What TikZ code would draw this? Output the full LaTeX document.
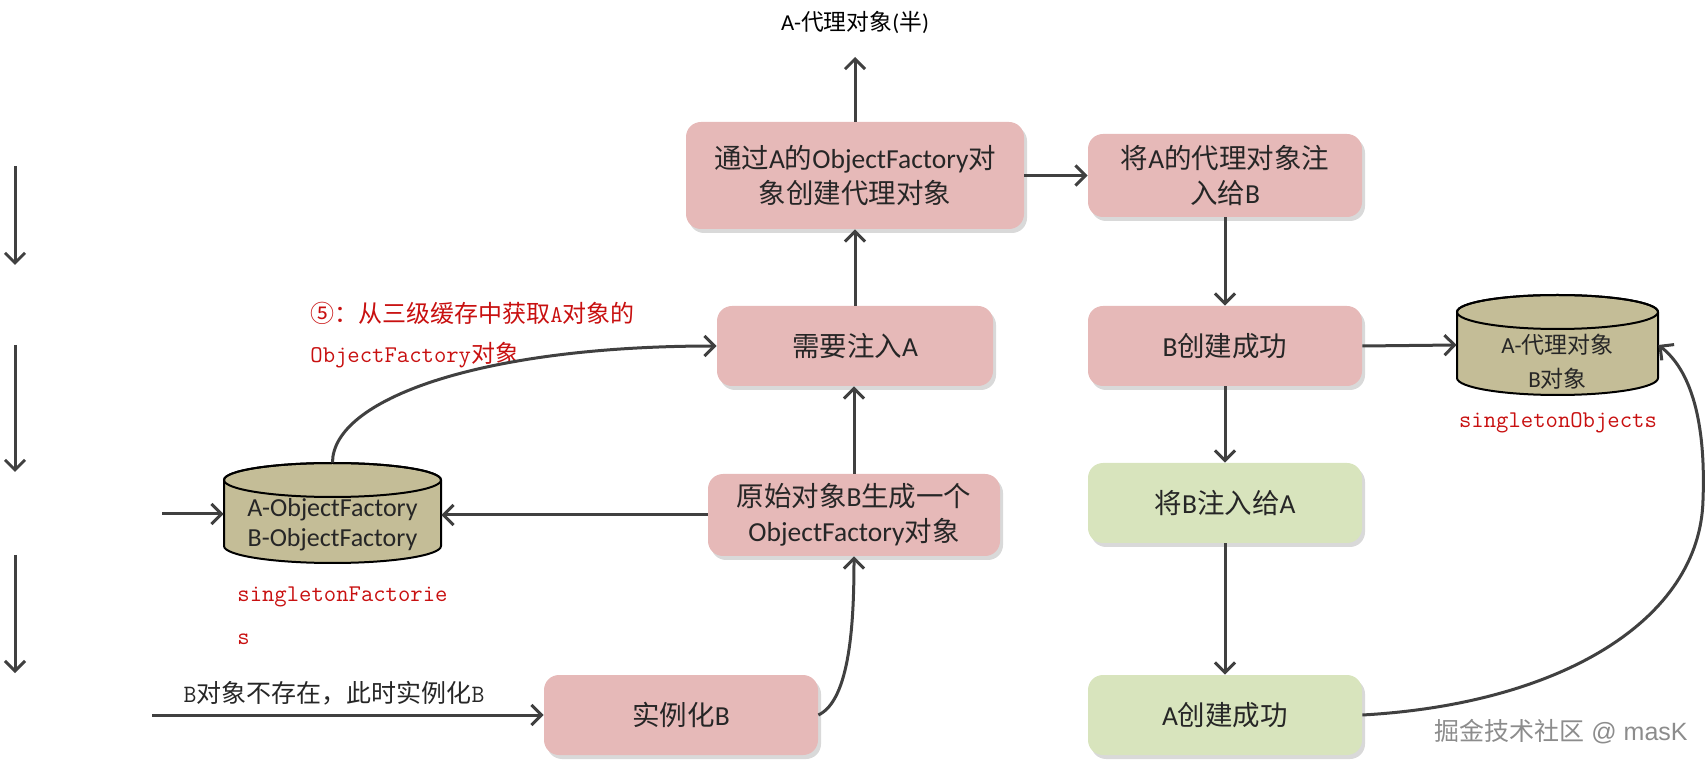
\documentclass[tikz,border=0pt]{standalone}
\usepackage{fontspec}
\setmainfont{Carlito}
\newfontfamily\cjk{Noto Sans CJK SC}
\newfontfamily\wmfont{Liberation Sans}
\usetikzlibrary{arrows.meta,shadows}
\newcommand\zh[1]{{\cjk #1}}
\definecolor{pinkbox}{RGB}{230,185,184}
\definecolor{greenbox}{RGB}{216,228,189}
\definecolor{cylfill}{RGB}{196,189,151}
\definecolor{arrowc}{RGB}{64,64,64}
\definecolor{redtext}{RGB}{200,16,16}
\definecolor{boxtext}{RGB}{38,38,38}
\tikzset{
  box/.style={rectangle, rounded corners=7.5pt, fill=pinkbox, text=boxtext, align=center,
    inner sep=0pt, minimum width=137pt, minimum height=40pt,
    font=\fontsize{13.75pt}{17.5pt}\selectfont,
    drop shadow={shadow xshift=1.5pt,shadow yshift=-2pt,opacity=.3}},
  gbox/.style={box, fill=greenbox},
  conn/.style={draw=arrowc, line width=1.5pt, -{Straight Barb[length=5pt,width=10pt]}},
  plain/.style={draw=arrowc, line width=1.5pt},
  cylline/.style={draw=black, line width=1pt, fill=cylfill},
  anchorbox/.style={rectangle, inner sep=0pt},
  cyltext/.style={align=center, inner sep=0pt, text=boxtext},
  redlab/.style={inner sep=0pt, text=redtext, font=\ttfamily\fontsize{12pt}{21pt}\selectfont},
}
\begin{document}
\begin{tikzpicture}[x=0.5pt,y=0.5pt]
\useasboundingbox (0,0) rectangle (1708,-769);
% boxes
\node[box, minimum width=169pt, minimum height=53.5pt] (tb1) at (855,-175.5)
  {\zh{通过}A\zh{的}ObjectFactory\zh{对}\\\zh{象创建代理对象}};
\node[box, minimum height=41.5pt] (tb2) at (1225,-175.5) {\zh{将}A\zh{的代理对象注}\\\zh{入给}B};
\node[box, minimum width=138pt] (need) at (855,-346) {\zh{需要注入}A};
\node[box, minimum width=146pt, minimum height=41pt] (orig) at (854,-515)
  {\zh{原始对象}B\zh{生成一个}\\ObjectFactory\zh{对象}};
\node[box] (inst) at (681,-715) {\zh{实例化}B};
\node[box] (bsucc) at (1225,-346) {B\zh{创建成功}};
\node[gbox] (binj) at (1225,-503) {\zh{将}B\zh{注入给}A};
\node[gbox] (asucc) at (1225,-715) {A\zh{创建成功}};
% cylinder 1
\draw[cylline] (224,-480) -- (224,-546) arc[start angle=180,end angle=360,x radius=108.5,y radius=17]
  -- (441,-480) arc[start angle=0,end angle=180,x radius=108.5,y radius=17] -- cycle;
\draw[line width=1pt] (332.5,-480) ellipse[x radius=108.5,y radius=17];
\node[anchorbox, minimum width=108.5pt, minimum height=50pt] (c1) at (332.5,-513) {};
\node[cyltext, font=\fontsize{13pt}{15pt}\selectfont] (c1t) at (332.5,-525) {A-ObjectFactory\\B-ObjectFactory};
% cylinder 2
\draw[cylline] (1457,-312) -- (1457,-378) arc[start angle=180,end angle=360,x radius=100.5,y radius=17]
  -- (1658,-312) arc[start angle=0,end angle=180,x radius=100.5,y radius=17] -- cycle;
\draw[line width=1pt] (1557.5,-312) ellipse[x radius=100.5,y radius=17];
\node[anchorbox, minimum width=100.5pt, minimum height=50pt] (c2) at (1557.5,-345) {};
\node[cyltext, font=\fontsize{11.5pt}{17pt}\selectfont] (c2t) at (1557.5,-362) {A-\zh{代理对象}\\B\zh{对象}};
% labels
\node[inner sep=0pt, font=\fontsize{11.4pt}{14pt}\selectfont] (top) at (855,-22) {A-\zh{代理对象}(\zh{半})};
\coordinate (topend) at (855,-57);
\node[redlab, anchor=west] (lab5a) at (310,-313) {\zh{⑤：从三级缓存中获取}A\zh{对象的}};
\node[redlab, anchor=west] (lab5b) at (310,-355) {ObjectFactory\zh{对象}};
\node[redlab, anchor=west] (sf1) at (237,-597) {singletonFactorie};
\node[redlab, anchor=west] (sf2) at (237,-639) {s};
\node[redlab] (so) at (1558,-423) {singletonObjects};
\node[inner sep=0pt, text=boxtext, font=\ttfamily\fontsize{12.5pt}{15pt}\selectfont] (blab) at (334,-693)
  {B\zh{对象不存在，此时实例化}B};
\node[inner sep=0pt, text=black!45, font=\wmfont\fontsize{12.5pt}{15pt}\selectfont] (wm) at (1561,-732)
  {\zh{掘金技术社区} @ masK};
% free coordinates
\coordinate (la1s) at (15,-166); \coordinate (la1e) at (15,-265);
\coordinate (la2s) at (15,-345); \coordinate (la2e) at (15,-472);
\coordinate (la3s) at (15,-555); \coordinate (la3e) at (15,-673);
\coordinate (c1in) at (162,-514);
\coordinate (instin) at (152,-715);
\coordinate (bend) at (1703,-500);
% connectors
\draw[conn] (la1s) -- (la1e);
\draw[conn] (la2s) -- (la2e);
\draw[conn] (la3s) -- (la3e);
\draw[conn] (tb1.north) -- (topend);
\draw[conn] (tb1.east) -- (tb2.west);
\draw[conn] (tb2.south) -- (bsucc.north);
\draw[conn] (need.north) -- (tb1.south);
\draw[conn] (orig.north) -- (orig.north |- need.south);
\draw[conn] (orig.west) -- (orig.west -| c1.east);
\draw[conn] (c1in) -- (c1in -| c1.west);
\draw[conn] (instin) -- (inst.west);
\draw[conn] (inst.east) .. controls +(32,15) and +(0,-64) .. (orig.south);
\draw[conn] (c1.north) .. controls +(0,63) and +(-237,0) .. (need.west);
\draw[conn] (bsucc.east) -- (c2.west);
\draw[conn] (bsucc.south) -- (binj.north);
\draw[conn] (binj.south) -- (asucc.north);
\draw[plain] (asucc.east) .. controls +(198,11) and +(-3,-120) .. (bend);
\draw[conn] (bend) .. controls +(3,80) and +(32,-25) .. (c2.east);
\end{tikzpicture}
\end{document}
